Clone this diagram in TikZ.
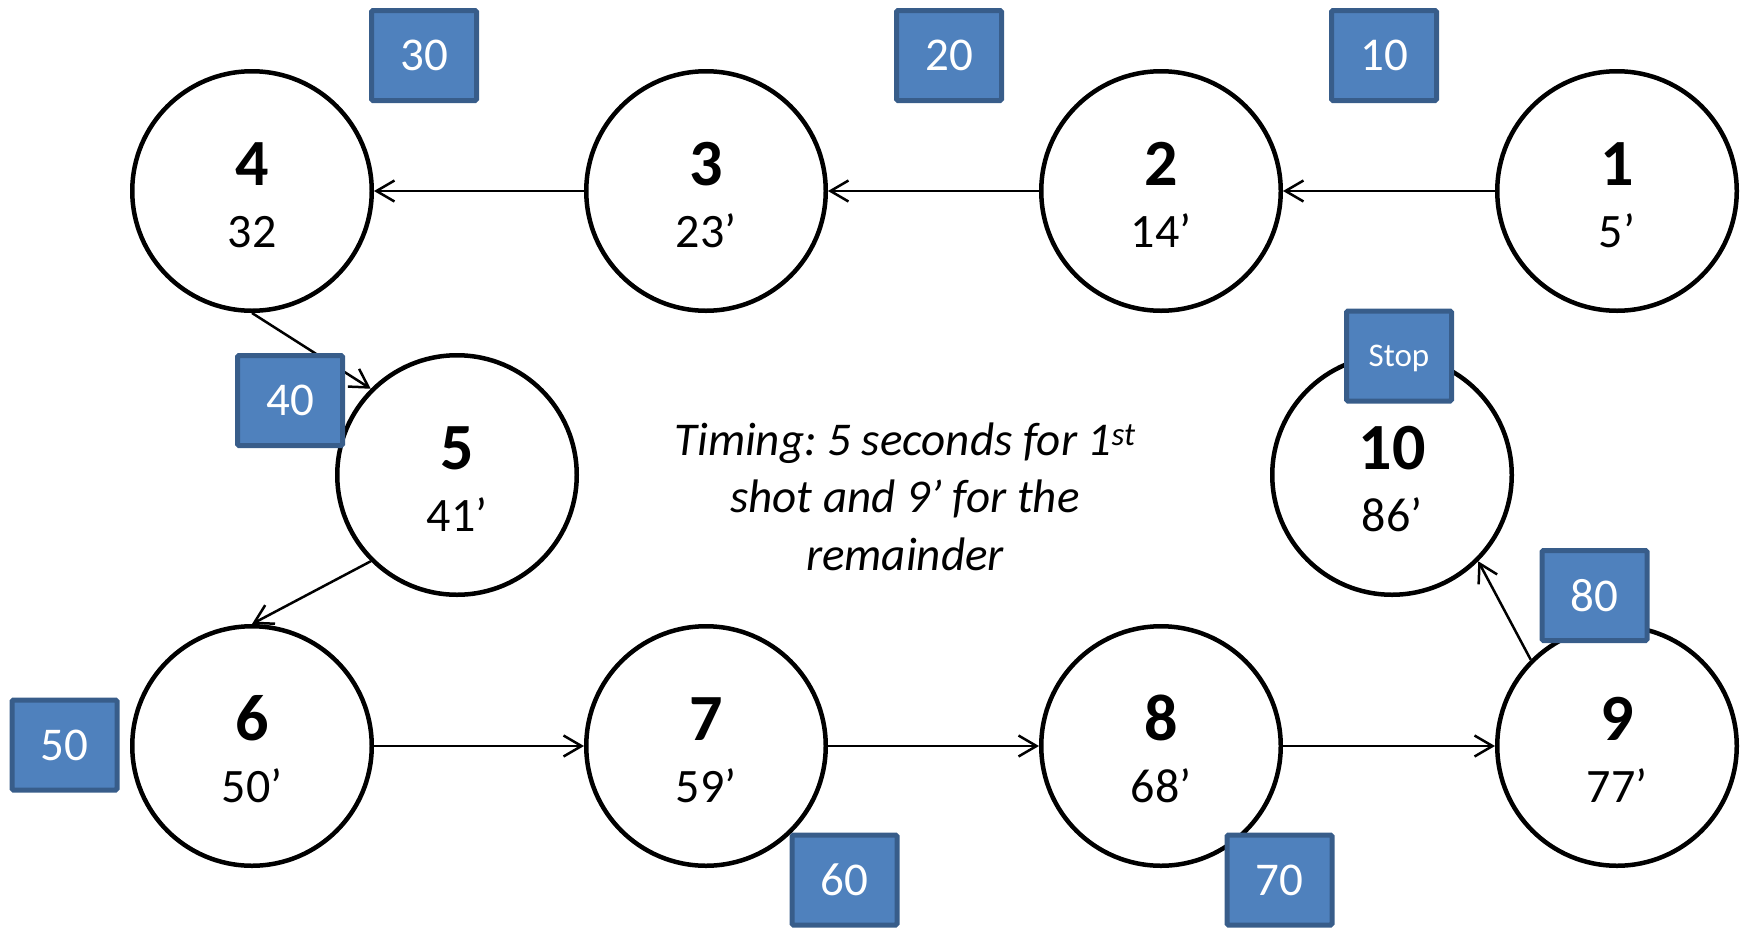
\documentclass[tikz,border=0pt]{standalone}
\usepackage{fontspec}
\setmainfont{Carlito}
\usetikzlibrary{arrows.meta,calc}
\definecolor{boxfill}{HTML}{4F81BD}
\definecolor{boxline}{HTML}{385D8A}
\frenchspacing
\newcommand\station[5]{%
  \node[stn] (#1) at (#2,#3) {};
  \node[numtxt,anchor=base] (#1n) at ($(#1)+(0,-6)$) {#4};
  \node[timetxt,anchor=base] (#1t) at ($(#1)+(0,56)$) {#5};
}
\begin{document}
\begin{tikzpicture}[x=1pt,y=-1pt,
  stn/.style={circle,draw=black,fill=white,line width=4.5pt,minimum size=239.5pt,inner sep=0pt},
  numtxt/.style={font=\bfseries\fontsize{66}{70}\selectfont,inner sep=0pt},
  timetxt/.style={font=\fontsize{48}{52}\selectfont,inner sep=0pt},
  tag/.style={rectangle,draw=boxline,fill=boxfill,line width=5pt,minimum width=105pt,minimum height=90pt,inner sep=0pt,rounded corners=1.5pt,text=white,font=\fontsize{47}{50}\selectfont,text depth=0pt},
  link/.style={line width=2.5pt,-{Straight Barb[length=18pt,width=21pt]}}]
\useasboundingbox (0,0) rectangle (1741,927);
\station{c1}{1617}{191}{1}{5’}
\station{c2}{1161}{191}{2}{14’}
\station{c3}{706}{191}{3}{23’}
\station{c4}{252}{191}{4}{32}
\station{c5}{457}{475}{5}{41’}
\station{c6}{252}{746}{6}{50’}
\station{c7}{706}{746}{7}{59’}
\station{c8}{1161}{746}{8}{68’}
\station{c9}{1617}{746}{9}{77’}
\station{c10}{1392}{475}{10}{86’}
\draw[link] (c1) -- (c2);
\draw[link] (c2) -- (c3);
\draw[link] (c3) -- (c4);
\draw[link] (c4.south) -- (c5.135);
\draw[link] (c5.225) -- (c6.north);
\draw[link] (c6) -- (c7);
\draw[link] (c7) -- (c8);
\draw[link] (c8) -- (c9);
\draw[link] (c9.135) -- (c10.-45);
\node[tag] (b10) at (1384,55.5) {10};
\node[tag] (b20) at (949,55.5) {20};
\node[tag] (b30) at (424,55.5) {30};
\node[tag] (b40) at (290,400.5) {40};
\node[tag] (b50) at (64.5,745) {50};
\node[tag] (b60) at (844.5,880) {60};
\node[tag] (b70) at (1279.5,880) {70};
\node[tag] (b80) at (1594.5,595.5) {80};
\node[tag,font=\fontsize{33}{36}\selectfont] (bstop) at (1399,356) {Stop};
\node[font=\itshape\fontsize{47}{57.5}\selectfont,align=center,anchor=base,inner sep=0pt] (timing) at (905,570) {Timing: 5 seconds for 1\textsuperscript{st}\\shot and 9’ for the\\remainder};
\end{tikzpicture}
\end{document}
